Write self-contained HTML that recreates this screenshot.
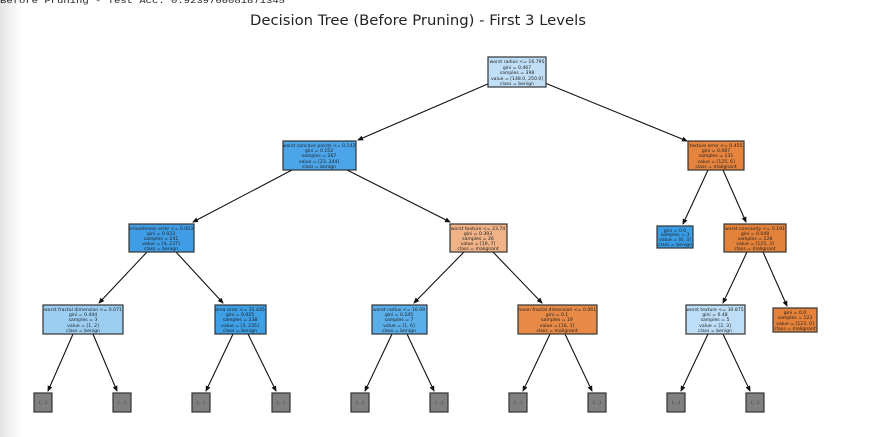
<!DOCTYPE html>
<html><head><meta charset="utf-8"><style>
html,body{margin:0;padding:0;background:#fff;}
body{width:875px;height:437px;overflow:hidden;position:relative;}
.shade{position:absolute;left:0;top:0;width:22px;height:437px;background:linear-gradient(to right,#e4e4e4,#fff);}
svg{position:absolute;left:0;top:0;}
</style></head><body>
<div class="shade"></div>
<svg width="875" height="437" xmlns="http://www.w3.org/2000/svg" font-family="DejaVu Sans, Liberation Sans, sans-serif">
<defs><marker id="a" markerWidth="6" markerHeight="6" refX="5" refY="3" orient="auto" markerUnits="userSpaceOnUse"><path d="M0,0.5 L6,3 L0,5.5 z" fill="#111"/></marker></defs>
<text x="0" y="3" font-size="8" fill="#222" font-family="Liberation Mono, monospace" textLength="285" lengthAdjust="spacingAndGlyphs">Before Pruning - Test Acc: 0.9239766081871345</text>
<text x="418" y="25" font-size="14" text-anchor="middle" fill="#222" textLength="336" lengthAdjust="spacingAndGlyphs">Decision Tree (Before Pruning) - First 3 Levels</text>
<g stroke="#111" stroke-width="1.1" fill="none" marker-end="url(#a)">
<line x1="490" y1="83" x2="358" y2="140"/>
<line x1="545" y1="83" x2="687" y2="141"/>
<line x1="292" y1="170" x2="193" y2="222"/>
<line x1="347" y1="170" x2="450" y2="222"/>
<line x1="708" y1="170" x2="683" y2="224"/>
<line x1="723" y1="170" x2="746" y2="222"/>
<line x1="147" y1="252" x2="99" y2="303"/>
<line x1="176" y1="252" x2="223" y2="303"/>
<line x1="464" y1="252" x2="414" y2="303"/>
<line x1="493" y1="252" x2="542" y2="303"/>
<line x1="747" y1="252" x2="723" y2="303"/>
<line x1="763" y1="252" x2="787" y2="306"/>
<line x1="73" y1="334" x2="48" y2="391"/>
<line x1="93" y1="334" x2="117" y2="391"/>
<line x1="233" y1="334" x2="206" y2="391"/>
<line x1="248" y1="334" x2="276" y2="391"/>
<line x1="392" y1="334" x2="365" y2="391"/>
<line x1="407" y1="334" x2="434" y2="391"/>
<line x1="550" y1="334" x2="523" y2="391"/>
<line x1="565" y1="334" x2="592" y2="391"/>
<line x1="708" y1="334" x2="681" y2="391"/>
<line x1="723" y1="334" x2="750" y2="391"/>
</g>
<g stroke="#333" stroke-width="1.2" font-size="4.6" text-anchor="middle" fill="#222">
<rect x="488" y="57" width="58" height="30" fill="#c0dff7"/>
<rect x="283" y="141" width="73" height="29" fill="#4ba5e8"/>
<rect x="688" y="141" width="56" height="29" fill="#e6843d"/>
<rect x="129" y="224" width="65" height="28" fill="#3f9de5"/>
<rect x="450" y="224" width="57" height="28" fill="#f0b387"/>
<rect x="657" y="226" width="36" height="22" fill="#399de5"/>
<rect x="724" y="224" width="62" height="28" fill="#e5823a"/>
<rect x="43" y="305" width="80" height="29" fill="#9ccef2"/>
<rect x="215" y="305" width="51" height="29" fill="#3d9fe5"/>
<rect x="372" y="305" width="55" height="29" fill="#5aaee9"/>
<rect x="518" y="305" width="79" height="29" fill="#e78a47"/>
<rect x="686" y="305" width="59" height="29" fill="#bddef6"/>
<rect x="773" y="308" width="44" height="24" fill="#e58139"/>
<g fill="#808080">
<rect x="34" y="393" width="18" height="19"/><rect x="113" y="393" width="18" height="19"/>
<rect x="192" y="393" width="18" height="19"/><rect x="272" y="393" width="18" height="19"/>
<rect x="351" y="393" width="18" height="19"/><rect x="430" y="393" width="18" height="19"/>
<rect x="509" y="393" width="18" height="19"/><rect x="588" y="393" width="18" height="19"/>
<rect x="667" y="393" width="18" height="19"/><rect x="746" y="393" width="18" height="19"/>
</g>
</g>
<g font-size="4.6" text-anchor="middle" fill="#222">
<text x="517" y="63">worst radius &lt;= 16.795</text><text x="517" y="69">gini = 0.467</text><text x="517" y="74">samples = 398</text><text x="517" y="80">value = [148.0, 250.0]</text><text x="517" y="85">class = benign</text>
<text x="319" y="147">worst concave points &lt;= 0.142</text><text x="319" y="152">gini = 0.152</text><text x="319" y="157">samples = 267</text><text x="319" y="163">value = [23, 244]</text><text x="319" y="168">class = benign</text>
<text x="716" y="147">texture error &lt;= 0.455</text><text x="716" y="152">gini = 0.087</text><text x="716" y="157">samples = 131</text><text x="716" y="163">value = [125, 6]</text><text x="716" y="168">class = malignant</text>
<text x="161" y="230">smoothness error &lt;= 0.003</text><text x="161" y="235">gini = 0.033</text><text x="161" y="240">samples = 241</text><text x="161" y="245">value = [4, 237]</text><text x="161" y="250">class = benign</text>
<text x="478" y="230">worst texture &lt;= 23.74</text><text x="478" y="235">gini = 0.393</text><text x="478" y="240">samples = 26</text><text x="478" y="245">value = [19, 7]</text><text x="478" y="250">class = malignant</text>
<text x="675" y="232">gini = 0.0</text><text x="675" y="236">samples = 3</text><text x="675" y="241">value = [0, 3]</text><text x="675" y="246">class = benign</text>
<text x="755" y="230">worst concavity &lt;= 0.191</text><text x="755" y="235">gini = 0.048</text><text x="755" y="240">samples = 128</text><text x="755" y="245">value = [125, 3]</text><text x="755" y="250">class = malignant</text>
<text x="83" y="311">worst fractal dimension &lt;= 0.071</text><text x="83" y="316">gini = 0.444</text><text x="83" y="321">samples = 3</text><text x="83" y="327">value = [1, 2]</text><text x="83" y="332">class = benign</text>
<text x="240" y="311">area error &lt;= 35.435</text><text x="240" y="316">gini = 0.025</text><text x="240" y="321">samples = 238</text><text x="240" y="327">value = [3, 235]</text><text x="240" y="332">class = benign</text>
<text x="399" y="311">worst radius &lt;= 16.09</text><text x="399" y="316">gini = 0.245</text><text x="399" y="321">samples = 7</text><text x="399" y="327">value = [1, 6]</text><text x="399" y="332">class = benign</text>
<text x="557" y="311">mean fractal dimension &lt;= 0.061</text><text x="557" y="316">gini = 0.1</text><text x="557" y="321">samples = 19</text><text x="557" y="327">value = [18, 1]</text><text x="557" y="332">class = malignant</text>
<text x="715" y="311">worst texture &lt;= 30.875</text><text x="715" y="316">gini = 0.48</text><text x="715" y="321">samples = 5</text><text x="715" y="327">value = [2, 3]</text><text x="715" y="332">class = benign</text>
<text x="795" y="314">gini = 0.0</text><text x="795" y="319">samples = 123</text><text x="795" y="325">value = [123, 0]</text><text x="795" y="330">class = malignant</text>
<g fill="#333"><text x="43" y="404">(...)</text><text x="122" y="404">(...)</text><text x="201" y="404">(...)</text><text x="281" y="404">(...)</text><text x="360" y="404">(...)</text><text x="439" y="404">(...)</text><text x="518" y="404">(...)</text><text x="597" y="404">(...)</text><text x="676" y="404">(...)</text><text x="755" y="404">(...)</text></g>
</g>
</svg>
</body></html>
